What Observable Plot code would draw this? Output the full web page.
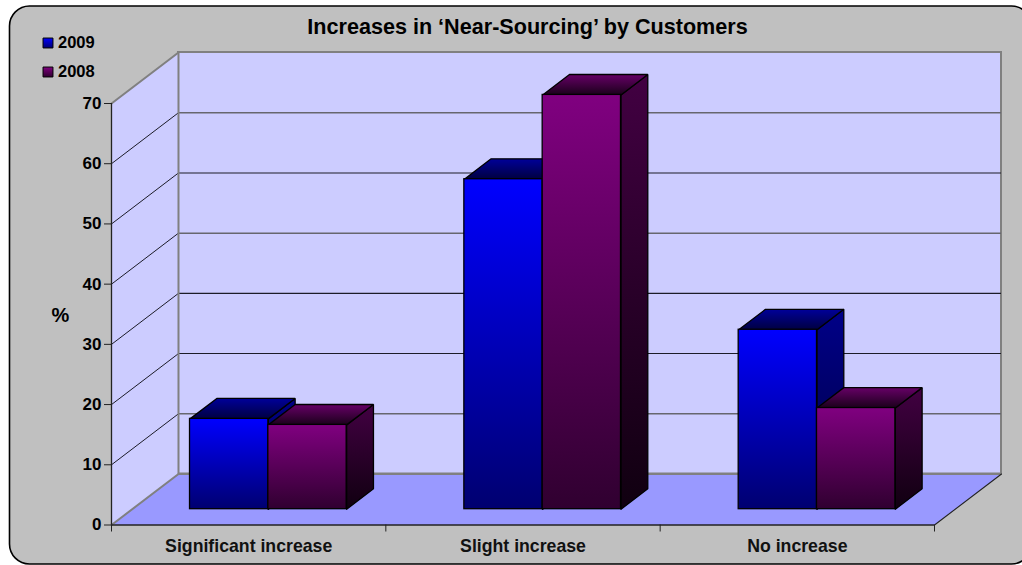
<!DOCTYPE html>
<html>
<head>
<meta charset="utf-8">
<script src="https://cdn.jsdelivr.net/npm/d3@7"></script>
<script src="https://cdn.jsdelivr.net/npm/@observablehq/plot@0.6"></script>
<style>
  html, body { margin: 0; padding: 0; background: #fff; overflow: hidden; }
  svg { display: block; }
</style>
</head>
<body>
<div id="chart"></div>
<script>
// Survey results, percent of respondents
const categories = ["Significant increase", "Slight increase", "No increase"];
const values2009 = [15, 54.8, 29.8];
const values2008 = [14, 68.8, 16.8];
const yTicks = [0, 10, 20, 30, 40, 50, 60, 70];
const softGrid = [10, 40, 60];
const darkGrid = [20, 30, 50];
const chartTitle = "Increases in ‘Near-Sourcing’ by Customers";

// Oblique projection: how far one full unit of depth shifts a point, in data units
const DEPTH_X = 0.2442;
const DEPTH_Y = 8.47;
const px = (x, d) => x + d * DEPTH_X;
const py = (v, d) => v + d * DEPTH_Y;

// Bar layout inside a category slot, and the depth span of the bars
const GAP = 0.2105;
const BAR = 0.2855;
const D_FRONT = 0.31;
const D_BACK = 0.71;

const FONT = "'Liberation Sans', Arial, sans-serif";
const XMAX = categories.length;
const YMAX = 70;

// Vertical gradients used by the bar faces, top colour then bottom colour
const gradients = {
  blueFront: ["#0000ff", "#000070"],
  blueSide: ["#000088", "#000040"],
  blueTop: ["#000099", "#000040"],
  purpleFront: ["#800080", "#300030"],
  purpleSide: ["#420042", "#100010"],
  purpleTop: ["#660066", "#1a001a"]
};

function gradientDefs() {
  const defs = d3.create("svg:defs");
  for (const [id, [top, bottom]] of Object.entries(gradients)) {
    const g = defs.append("linearGradient")
      .attr("id", id).attr("x1", 0).attr("y1", 0).attr("x2", 0).attr("y2", 1);
    g.append("stop").attr("offset", 0).attr("stop-color", top);
    g.append("stop").attr("offset", 1).attr("stop-color", bottom);
  }
  return defs.node();
}

// Closed polygon in data coordinates
function polygon(points, options) {
  return Plot.line([...points, points[0]], {x: "0", y: "1", ...options});
}

// One extruded bar: side, top, then front
function barMarks(x0, value, prefix) {
  const x1 = x0 + BAR;
  const edge = {stroke: "#000", strokeWidth: 1.3, strokeLinejoin: "miter"};
  return [
    polygon([
      [px(x1, D_FRONT), py(0, D_FRONT)], [px(x1, D_BACK), py(0, D_BACK)],
      [px(x1, D_BACK), py(value, D_BACK)], [px(x1, D_FRONT), py(value, D_FRONT)]
    ], {fill: `url(#${prefix}Side)`, ...edge}),
    polygon([
      [px(x0, D_FRONT), py(value, D_FRONT)], [px(x1, D_FRONT), py(value, D_FRONT)],
      [px(x1, D_BACK), py(value, D_BACK)], [px(x0, D_BACK), py(value, D_BACK)]
    ], {fill: `url(#${prefix}Top)`, ...edge}),
    Plot.rect([{}], {
      x1: px(x0, D_FRONT), x2: px(x1, D_FRONT),
      y1: py(0, D_FRONT), y2: py(value, D_FRONT),
      fill: `url(#${prefix}Front)`, ...edge
    })
  ];
}

const bars = categories.flatMap((_, i) => [
  ...barMarks(i + GAP, values2009[i], "blue"),
  ...barMarks(i + GAP + BAR, values2008[i], "purple")
]);

// Legend row anchored to the top-left corner of the plot frame
function legendRow(label, gradient, dy) {
  return [
    Plot.dot([label], {
      frameAnchor: "top-left", dx: -63.5, dy, symbol: "square", r: 5.6,
      fill: `url(#${gradient})`, stroke: "#000", strokeWidth: 1
    }),
    Plot.text([label], {
      text: d => d, frameAnchor: "top-left", dx: -53.5, dy, lineAnchor: "middle", textAnchor: "start",
      fontSize: 16.5, fontWeight: "bold", fill: "#000", fontFamily: FONT
    })
  ];
}

const wallEdge = {stroke: "#808080", strokeWidth: 2};

const chart = Plot.plot({
  width: 1022,
  height: 565,
  marginLeft: 111,
  marginRight: 88,
  marginTop: 103,
  marginBottom: 40.5,
  style: {overflow: "hidden", background: "transparent", fontFamily: FONT},
  x: {domain: [0, XMAX], axis: null},
  y: {domain: [0, YMAX], axis: null},
  marks: [
    gradientDefs,
    // Rounded chart area
    Plot.frame({
      fill: "#c0c0c0", stroke: "#000", strokeWidth: 1.6, rx: 20,
      insetLeft: -102, insetTop: -97.5, insetRight: -97, insetBottom: -39
    }),
    // Back wall
    Plot.rect([{}], {
      x1: px(0, 1), x2: px(XMAX, 1), y1: py(0, 1), y2: py(YMAX, 1),
      fill: "#ccccff", ...wallEdge
    }),
    // Side wall
    polygon([[0, 0], [px(0, 1), py(0, 1)], [px(0, 1), py(YMAX, 1)], [0, YMAX]], {fill: "#ccccff"}),
    // Floor
    polygon([[0, 0], [XMAX, 0], [px(XMAX, 1), py(0, 1)], [px(0, 1), py(0, 1)]], {fill: "#9999ff"}),
    // Grid lines across the back wall
    Plot.ruleY(softGrid, {y: d => py(d, 1), x1: px(0, 1), x2: px(XMAX, 1), stroke: "#66666e", strokeWidth: 1.5}),
    Plot.ruleY(darkGrid, {y: d => py(d, 1), x1: px(0, 1), x2: px(XMAX, 1), stroke: "#1c1c28", strokeWidth: 1.1}),
    Plot.ruleY([0], {y: d => py(d, 1), x1: px(0, 1), x2: px(XMAX, 1), ...wallEdge}),
    // Grid lines across the side wall
    ...[...softGrid, ...darkGrid].map(v =>
      Plot.line([[0, v], [px(0, 1), py(v, 1)]], {x: "0", y: "1", stroke: "#1c1c28", strokeWidth: 1})
    ),
    // Wall edges
    Plot.line([[0, YMAX], [px(0, 1), py(YMAX, 1)]], {x: "0", y: "1", ...wallEdge}),
    Plot.line([[0, 0], [px(0, 1), py(0, 1)]], {x: "0", y: "1", ...wallEdge}),
    Plot.line([[px(0, 1), py(0, 1)], [px(0, 1), py(YMAX, 1)]], {x: "0", y: "1", ...wallEdge}),
    Plot.line([[XMAX, 0], [px(XMAX, 1), py(0, 1)]], {x: "0", y: "1", stroke: "#222", strokeWidth: 1.1}),
    ...bars,
    // Axis lines
    Plot.ruleX([0], {y1: 0, y2: YMAX, stroke: "#222", strokeWidth: 1.3}),
    Plot.ruleY([0], {x1: 0, x2: XMAX, stroke: "#222", strokeWidth: 1.5}),
    Plot.axisY(yTicks, {
      anchor: "left", tickSize: 7, tickPadding: 3, label: null,
      fontSize: 17, fontWeight: "bold", fill: "#000", stroke: "#222", fontFamily: FONT
    }),
    // Tick marks at the slot boundaries, labels at the slot centres
    Plot.axisX(d3.range(XMAX + 1), {
      anchor: "bottom", tickSize: 7, tickFormat: () => "", label: null, stroke: "#222"
    }),
    Plot.axisX(categories.map((_, i) => i + 0.5), {
      anchor: "bottom", tickSize: 0, tickPadding: 14, label: null,
      tickFormat: d => categories[d - 0.5],
      fontSize: 17.7, fontWeight: "bold", fill: "#111", fontFamily: FONT
    }),
    // Y axis unit
    Plot.text(["%"], {
      text: d => d, y: 34.8, frameAnchor: "left", dx: -51, textAnchor: "middle",
      fontSize: 20, fontWeight: "bold", fill: "#000", fontFamily: FONT
    }),
    // Title
    Plot.text([chartTitle], {
      text: d => d, frameAnchor: "top", dx: 4.5, dy: -76, lineAnchor: "middle",
      fontSize: 21.6, fontWeight: "bold", fill: "#000", fontFamily: FONT
    }),
    ...legendRow("2009", "blueFront", -60.5),
    ...legendRow("2008", "purpleFront", -31.5)
  ]
});

document.getElementById("chart").append(chart);
</script>
</body>
</html>
